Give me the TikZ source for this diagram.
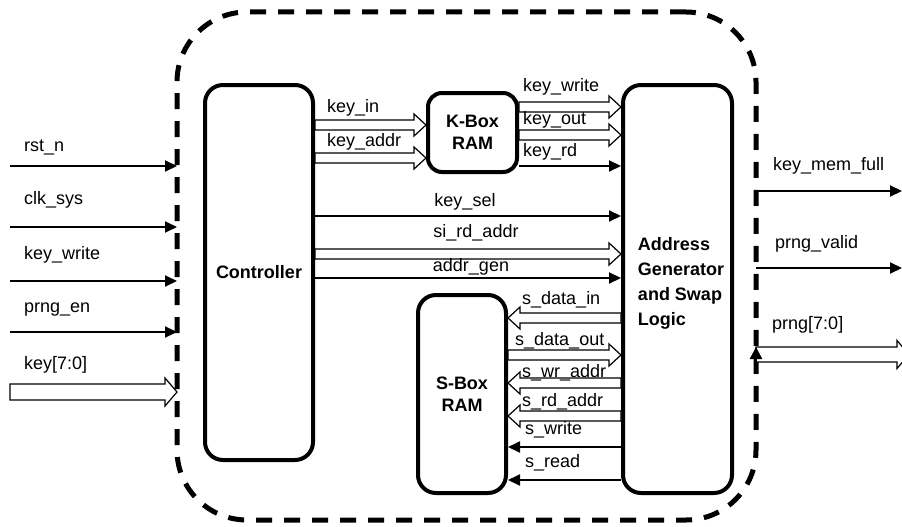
\documentclass[tikz,border=0pt]{standalone}
\usepackage{fontspec}
\setmainfont{Liberation Sans}
\usetikzlibrary{arrows.meta,calc}
\tikzset{
  box/.style={draw, line width=4pt, rounded corners=18pt, font=\fontsize{18}{22}\selectfont\bfseries, align=center, inner sep=0pt},
  lbl/.style={anchor=west, inner sep=0pt},
  clbl/.style={anchor=center, inner sep=0pt},
  sig/.style={line width=2pt, -{Triangle[length=12pt,width=11pt]}},
  hollowline/.style={draw, line width=1.2pt, fill=white, line join=miter},
  chipbox/.style={draw, dash pattern=on 16pt off 12pt, line width=5pt, rounded corners=70pt, outer sep=0pt, inner sep=0pt},
}
\newcommand\hollowarr[4]{%
  \draw[hollowline] let \p1=(#1), \p2=(#2), \n1={sign(\x2-\x1)} in
    (\x1,{\y1+#3}) -- ({\x2-(\n1)*12pt},{\y1+#3}) -- ({\x2-(\n1)*12pt},{\y1+#4}) -- (\x2,\y1)
    -- ({\x2-(\n1)*12pt},{\y1-#4}) -- ({\x2-(\n1)*12pt},{\y1-#3}) -- (\x1,{\y1-#3}) -- cycle;
}
\begin{document}
\begin{tikzpicture}[x=1pt,y=-1pt, every node/.style={font=\fontsize{18}{22}\selectfont}]
\useasboundingbox (0,0) rectangle (902,527);
\clip (0,0) rectangle (902,527);

% chip boundary
\node[chipbox, minimum width=579pt, minimum height=508pt] (chip) at (466.5,266) {};

% blocks
\node[box, minimum width=108pt, minimum height=375pt] (ctrl) at (259,272.5) {Controller};
\node[box, rounded corners=14pt, minimum width=89pt, minimum height=79pt] (kbox) at (472.5,132.5) {K-Box\\RAM};
\node[box, minimum width=88pt, minimum height=198pt] (sbox) at (462,394) {S-Box\\RAM};
\node[box, minimum width=109pt, minimum height=408pt] (addr) at (677.5,289) {};
\node[font=\fontsize{18}{25}\selectfont\bfseries, align=left, inner sep=0pt] (addrtxt) at (681,283) {Address\\Generator\\and Swap\\Logic};

% inputs
\coordinate (rstS) at (10,166);
\coordinate (clkS) at (10,227);
\coordinate (kwS) at (10,281);
\coordinate (peS) at (10,332);
\coordinate (keyS) at (10,392);
\draw[sig] (rstS) -- (rstS -| chip.west);
\draw[sig] (clkS) -- (clkS -| chip.west);
\draw[sig] (kwS) -- (kwS -| chip.west);
\draw[sig] (peS) -- (peS -| chip.west);
\hollowarr{keyS}{keyS -| chip.west}{8pt}{14pt}
\node[lbl] (rstL) at (24,147) {rst\_n};
\node[lbl] (clkL) at (24,200) {clk\_sys};
\node[lbl] (kwL) at (24,255) {key\_write};
\node[lbl] (peL) at (24,310) {prng\_en};
\node[lbl] (keyL) at (24,365) {key[7:0]};

% outputs
\coordinate (kmfE) at (902,191);
\coordinate (pvE) at (902,268);
\coordinate (prE) at (909,354.5);
\draw[sig] (chip.east |- kmfE) -- (kmfE);
\draw[sig] (chip.east |- pvE) -- (pvE);
\hollowarr{chip.east |- prE}{prE}{7.5pt}{14pt}
\coordinate (upA) at (756,373);
\coordinate (upB) at (756,347);
\draw[line width=2.5pt, -{Triangle[length=12pt,width=12pt]}] (upA) -- (upB);
\node[lbl] (kmfL) at (773,166) {key\_mem\_full};
\node[lbl] (pvL) at (775,244) {prng\_valid};
\node[lbl] (prL) at (772,325) {prng[7:0]};

% controller -> K-Box
\hollowarr{ctrl.east |- 0,125}{kbox.west |- 0,125}{5pt}{11pt}
\hollowarr{ctrl.east |- 0,158}{kbox.west |- 0,158}{5pt}{11pt}
\node[lbl] (kinL) at (327,108) {key\_in};
\node[lbl] (kadL) at (327,142) {key\_addr};

% K-Box -> addr
\hollowarr{kbox.east |- 0,107}{addr.west |- 0,107}{5pt}{11pt}
\hollowarr{kbox.east |- 0,135}{addr.west |- 0,135}{5pt}{11pt}
\draw[sig] (kbox.east |- 0,166) -- (addr.west |- 0,166);
\node[lbl] (kwrL) at (523,87) {key\_write};
\node[lbl] (koL) at (523,120) {key\_out};
\node[lbl] (krdL) at (523,152) {key\_rd};

% controller -> addr
\draw[sig] (ctrl.east |- 0,216) -- (addr.west |- 0,216);
\hollowarr{ctrl.east |- 0,254}{addr.west |- 0,254}{5pt}{11pt}
\draw[sig] (ctrl.east |- 0,278) -- (addr.west |- 0,278);
\node[clbl] (kselL) at (465,202) {key\_sel};
\node[clbl] (sirL) at (476,233) {si\_rd\_addr};
\node[clbl] (agL) at (471,267) {addr\_gen};

% addr <-> S-Box
\hollowarr{addr.west |- 0,318}{sbox.east |- 0,318}{5pt}{11pt}
\hollowarr{sbox.east |- 0,355}{addr.west |- 0,355}{5pt}{11pt}
\hollowarr{addr.west |- 0,383}{sbox.east |- 0,383}{5pt}{11pt}
\hollowarr{addr.west |- 0,416}{sbox.east |- 0,416}{5pt}{11pt}
\draw[sig] (addr.west |- 0,447) -- (sbox.east |- 0,447);
\draw[sig] (addr.west |- 0,480) -- (sbox.east |- 0,480);
\node[lbl] (sdiL) at (522,300) {s\_data\_in};
\node[lbl] (sdoL) at (515,341) {s\_data\_out};
\node[lbl] (swaL) at (522,373) {s\_wr\_addr};
\node[lbl] (sraL) at (522,402) {s\_rd\_addr};
\node[lbl] (swL) at (525,430) {s\_write};
\node[lbl] (srL) at (525,463) {s\_read};
\end{tikzpicture}
\end{document}
